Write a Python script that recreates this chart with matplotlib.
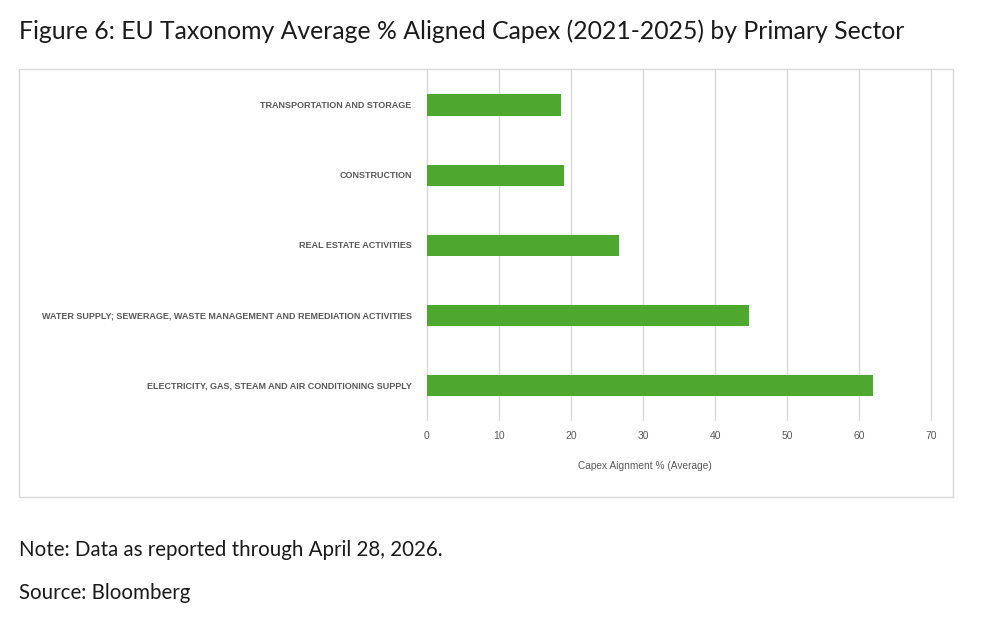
import matplotlib.pyplot as plt
from matplotlib.patches import Rectangle

categories = [
    "ELECTRICITY, GAS, STEAM AND AIR CONDITIONING SUPPLY",
    "WATER SUPPLY; SEWERAGE, WASTE MANAGEMENT AND REMEDIATION ACTIVITIES",
    "REAL ESTATE ACTIVITIES",
    "CONSTRUCTION",
    "TRANSPORTATION AND STORAGE",
]
capex_avg = [61.9, 44.7, 26.6, 19.0, 18.6]
x_ticks = [0, 10, 20, 30, 40, 50, 60, 70]

W, H = 983, 626
fig = plt.figure(figsize=(W / 100, H / 100), dpi=100)
fig.patch.set_facecolor("white")

# chart frame
fig.patches.append(Rectangle((19 / W, 1 - 497 / H), (953 - 19) / W, (497 - 69) / H,
                             transform=fig.transFigure, fill=False,
                             edgecolor="#d9d9d9", linewidth=1.0))

ax = fig.add_axes([427 / W, 1 - 420 / H, (931 - 427) / W, (420 - 70) / H])
ypos = list(range(len(categories)))
ax.barh(ypos, capex_avg, height=0.3, color="#4ea72e", zorder=3)
ax.set_xlim(0, 70)
ax.set_ylim(-0.5, len(categories) - 0.5)
ax.set_xticks(x_ticks)
ax.set_yticks(ypos)
ax.set_yticklabels(categories)
ax.grid(axis="x", color="#d9d9d9", linewidth=1.0, zorder=0)
for gl in ax.get_xgridlines():
    gl.set_clip_on(False)
for s in ax.spines.values():
    s.set_visible(False)
ax.tick_params(length=0)
ax.tick_params(axis="x", pad=8, labelsize=7.5, labelcolor="#595959")
ax.tick_params(axis="y", pad=11, labelsize=6.5, labelcolor="#595959")
for lab in ax.get_yticklabels():
    lab.set_family("Liberation Sans")
    lab.set_fontweight("bold")
for lab in ax.get_xticklabels():
    lab.set_family("Liberation Sans")
ax.set_xlabel("Capex Aignment % (Average)", fontsize=7.3, color="#595959",
              family="Liberation Sans")
ax.xaxis.set_label_coords((644.5 - 427) / 504, -(461 - 420) / 350)

fig.text(19 / W, 1 - 31 / H, "Figure 6: EU Taxonomy Average % Aligned Capex (2021-2025) by Primary Sector",
         fontsize=17.8, family="Lato", color="#1a1a1a", va="center", ha="left")
fig.text(19 / W, 1 - 550 / H, "Note: Data as reported through April 28, 2026.",
         fontsize=14.8, family="Lato", color="#1a1a1a", va="center", ha="left")
fig.text(19 / W, 1 - 593 / H, "Source: Bloomberg",
         fontsize=14.8, family="Lato", color="#1a1a1a", va="center", ha="left")

fig.savefig("out.png", dpi=100, facecolor="white")
